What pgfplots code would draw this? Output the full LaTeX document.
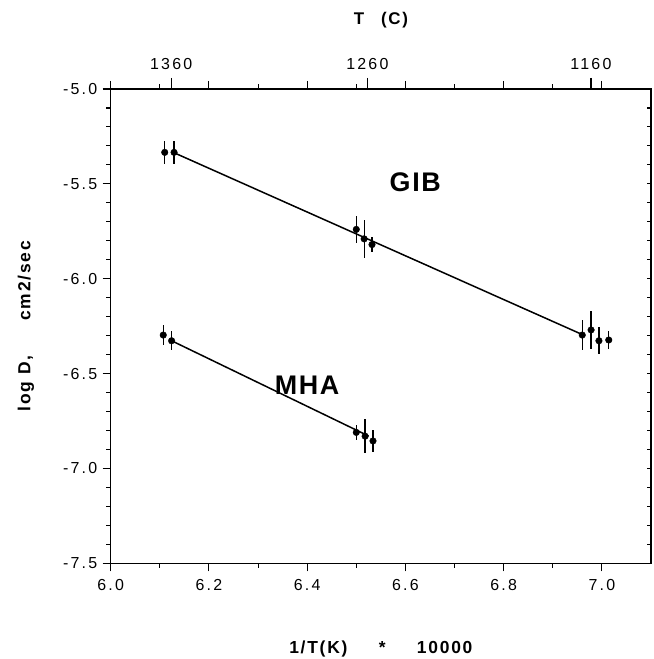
\documentclass[border=0pt]{standalone}
\usepackage{pgfplots}
\pgfplotsset{compat=1.18}
\usepackage{fontspec}
\setmainfont{Liberation Sans}
\newfontfamily\tickfont[LetterSpace=14]{Liberation Sans}
\newfontfamily\labfont[LetterSpace=6]{Liberation Sans}
\newfontfamily\axlabfont[LetterSpace=10]{Liberation Sans}

\pgfplotstableread{
x y e
6.110 -5.334 0.060
6.129 -5.334 0.060
6.500 -5.740 0.070
6.516 -5.790 0.100
6.532 -5.820 0.040
6.960 -6.297 0.080
6.978 -6.270 0.100
6.994 -6.327 0.070
7.014 -6.323 0.050
}\gib
\pgfplotstableread{
x y e
6.107 -6.297 0.053
6.124 -6.327 0.050
6.500 -6.810 0.040
6.518 -6.830 0.090
6.534 -6.855 0.060
}\mha
\pgfplotstableread{
x y
6.129 -5.336
6.965 -6.300
}\gibfit
\pgfplotstableread{
x y
6.124 -6.327
6.525 -6.829
}\mhafit

\begin{document}
\begin{tikzpicture}
\path[use as bounding box] (-110.7bp,-95.7bp) rectangle (543.3bp,563.3bp);
\pgfplotsset{every axis/.append style={scale only axis, width=540.3bp, height=474.3bp,
  xmin=6.0, xmax=7.1, ymin=-7.5, ymax=-5.0, at={(0,0)}, anchor=south west,
  axis line style={line width=1.5bp}, tick style={line width=1.1bp, black}}}
% main axis
\begin{axis}[
  clip=false,
  tick align=outside,
  xtick={6.0,6.2,6.4,6.6,6.8,7.0}, minor x tick num=1,
  xtick pos=both, xticklabel pos=lower,
  ytick={-7.5,-7.0,-6.5,-6.0,-5.5,-5.0}, minor y tick num=4,
  ytick pos=left,
  major tick length=8bp, minor tick length=4.5bp,
  xticklabel style={font=\fontsize{16}{18}\tickfont, yshift=-5bp},
  yticklabel style={font=\fontsize{16}{18}\tickfont, xshift=-2bp},
  /pgf/number format/.cd, fixed, fixed zerofill, precision=1, assume math mode=true, /pgfplots/.cd,
]
\addplot[black, line width=1.5bp] table[x=x,y=y] {\gibfit};
\addplot[black, line width=1.5bp] table[x=x,y=y] {\mhafit};
\addplot[black, only marks, mark=*, mark size=3.3bp,
  error bars/.cd, y dir=both, y explicit, error mark=none,
  error bar style={line width=1.3bp}]
  table[x=x,y=y,y error=e] {\gib};
\addplot[black, only marks, mark=*, mark size=3.3bp,
  error bars/.cd, y dir=both, y explicit, error mark=none,
  error bar style={line width=1.3bp}]
  table[x=x,y=y,y error=e] {\mha};
\node[font=\fontsize{27}{30}\labfont\bfseries] at (axis cs:6.62,-5.49) {GIB};
\node[font=\fontsize{27}{30}\labfont\bfseries] at (axis cs:6.40,-6.56) {MHA};
\node[font=\fontsize{17.5}{20}\axlabfont\bfseries] at ([yshift=-86bp]rel axis cs:0.5,0) {1/T(K)\hspace{1.8em}*\hspace{1.8em}10000};
\node[font=\fontsize{17.5}{20}\axlabfont\bfseries, rotate=90] at ([xshift=-84.7bp]rel axis cs:0,0.5) {log\hspace{0.4em}D,\hspace{2em}cm2/sec};
\node[font=\fontsize{17}{20}\axlabfont\bfseries] at ([yshift=69bp]rel axis cs:0.5,1) {T\hspace{1em}(C)};
\end{axis}
% top temperature axis
\begin{axis}[
  axis x line*=top, axis y line=none,
  tick align=outside,
  xtick={6.1231,6.5225,6.9778},
  xticklabels={1360,1260,1160},
  major tick length=11bp,
  xticklabel style={font=\fontsize{16}{18}\tickfont, yshift=5bp},
]
\end{axis}
% right axis ticks inside
\begin{axis}[
  axis y line*=right, axis x line=none,
  tick align=inside,
  ytick={-7.4,-7.3,-7.2,-7.1,-7.0,-6.9,-6.8,-6.7,-6.6,-6.5,-6.4,-6.3,-6.2,-6.1,-6.0,-5.9,-5.8,-5.7,-5.6,-5.5,-5.4,-5.3,-5.2,-5.1},
  yticklabels={},
  major tick length=4.5bp,
]
\end{axis}
\end{tikzpicture}
\end{document}
